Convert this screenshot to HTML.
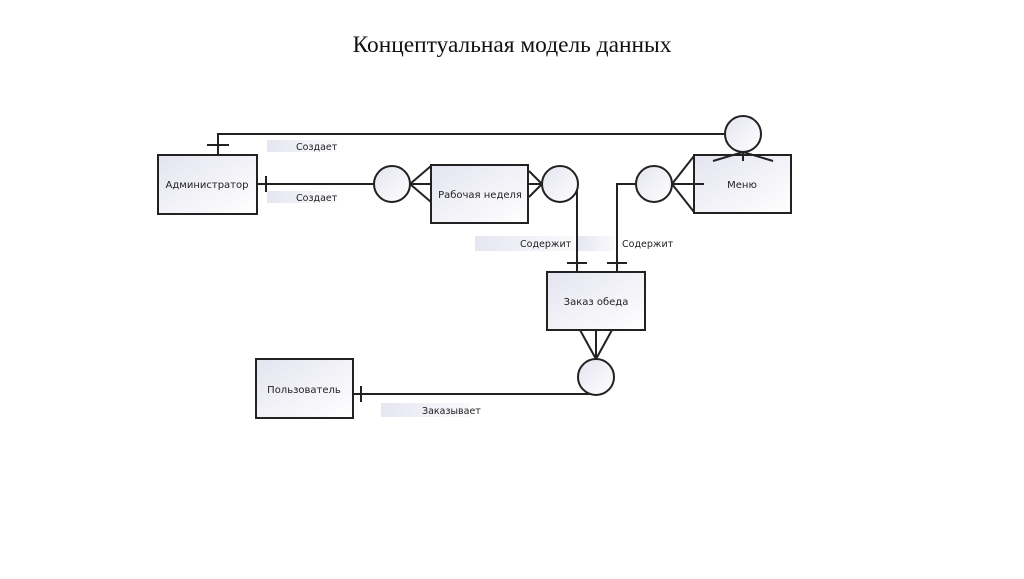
<!DOCTYPE html>
<html><head><meta charset="utf-8"><style>
body{margin:0;background:#fff;width:1024px;height:574px;overflow:hidden}
</style></head><body>
<svg width="1024" height="574" xmlns="http://www.w3.org/2000/svg">
<defs>
<linearGradient id="g" x1="0" y1="0" x2="1" y2="1"><stop offset="0" stop-color="#e4e4f0"/><stop offset="1" stop-color="#ffffff"/></linearGradient>
<linearGradient id="lg" x1="0" y1="0" x2="1" y2="0"><stop offset="0" stop-color="#e6e6f2"/><stop offset="1" stop-color="#fafafc"/></linearGradient>
</defs>
<text x="512" y="52" text-anchor="middle" font-family="Liberation Serif, serif" font-size="23.4" fill="#111">Концептуальная модель данных</text>
<g fill="url(#lg)">
<rect x="267" y="140" width="70" height="12"/>
<rect x="267" y="191" width="70" height="12"/>
<rect x="475" y="236" width="100" height="15"/>
<rect x="578" y="236" width="37" height="15"/>
<rect x="381" y="403" width="90" height="14"/>
</g>
<g stroke="#222" stroke-width="2" fill="none">
<rect x="158" y="155" width="99" height="59" fill="url(#g)"/>
<rect x="431" y="165" width="97" height="58" fill="url(#g)"/>
<rect x="694" y="155" width="97" height="58" fill="url(#g)"/>
<rect x="547" y="272" width="98" height="58" fill="url(#g)"/>
<rect x="256" y="359" width="97" height="59" fill="url(#g)"/>
<polyline points="218,155 218,134 725,134"/>
<line x1="207" y1="145" x2="229" y2="145"/>
<line x1="257" y1="184" x2="374" y2="184"/>
<line x1="266" y1="176" x2="266" y2="192"/>
<polyline points="431,166 410,184 431,202"/><line x1="410" y1="184" x2="431" y2="184"/>
<polyline points="529,171 542,184 529,197"/><line x1="529" y1="184" x2="542" y2="184"/>
<polyline points="577,184 577,272"/>
<line x1="567" y1="263" x2="587" y2="263"/>
<polyline points="636,184 617,184 617,272"/>
<line x1="607" y1="263" x2="627" y2="263"/>
<polyline points="694,156 672,184 694,212"/><line x1="672" y1="184" x2="704" y2="184"/>
<polyline points="713,161 743,152 773,161"/><line x1="743" y1="152" x2="743" y2="161"/>
<polyline points="580,330 596,359 612,330"/><line x1="596" y1="330" x2="596" y2="359"/>
<line x1="353" y1="394" x2="598" y2="394"/>
<line x1="361" y1="386" x2="361" y2="402"/>
<circle cx="392" cy="184" r="18" fill="url(#g)"/>
<circle cx="560" cy="184" r="18" fill="url(#g)"/>
<circle cx="654" cy="184" r="18" fill="url(#g)"/>
<circle cx="743" cy="134" r="18" fill="url(#g)"/>
<circle cx="596" cy="377" r="18" fill="url(#g)"/>
</g>
<g font-family="DejaVu Sans, Liberation Sans, sans-serif" font-size="10" fill="#222" text-anchor="middle">
<text x="207" y="188">Администратор</text>
<text x="480" y="198">Рабочая неделя</text>
<text x="742" y="188">Меню</text>
<text x="596" y="305">Заказ обеда</text>
<text x="304" y="393">Пользователь</text>
</g>
<g font-family="DejaVu Sans, Liberation Sans, sans-serif" font-size="9.5" fill="#222">
<text x="296" y="150">Создает</text>
<text x="296" y="201">Создает</text>
<text x="520" y="247">Содержит</text>
<text x="622" y="247">Содержит</text>
<text x="422" y="414">Заказывает</text>
</g>
</svg>
</body></html>
